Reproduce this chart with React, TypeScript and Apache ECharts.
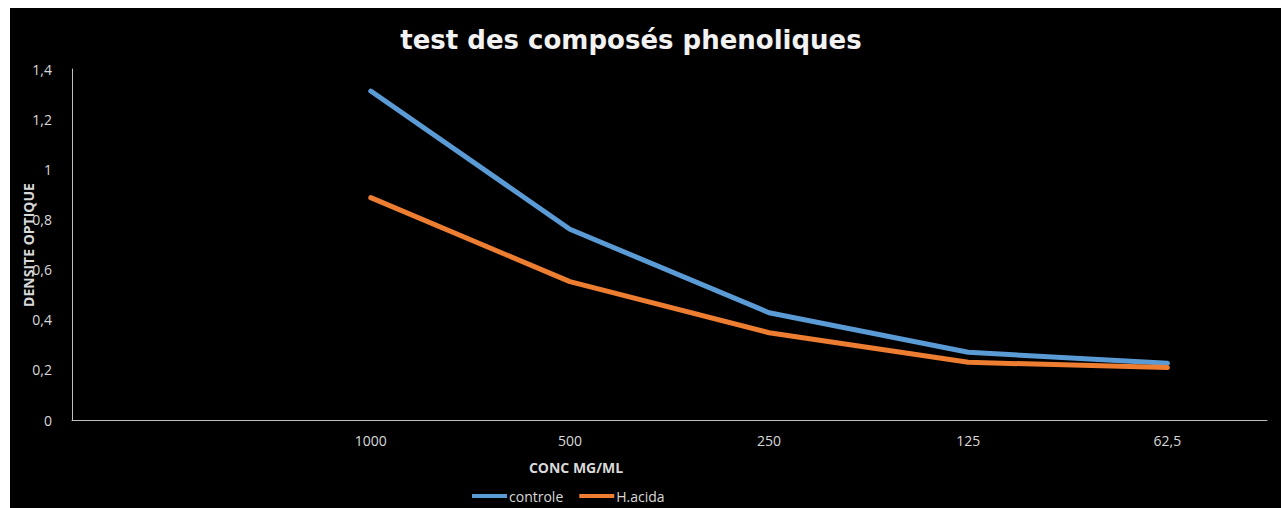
import React, { useEffect, useRef } from "react";
import * as echarts from "echarts";

const categories = ["", "1000", "500", "250", "125", "62,5"];
const controle = [null, 1.312, 0.761, 0.428, 0.27, 0.226];
const hAcida = [null, 0.887, 0.552, 0.348, 0.23, 0.209];
const yTicks = { min: 0, max: 1.4, interval: 0.2 };

const titleText = "test des composés phenoliques";
const xName = "CONC MG/ML";
const yName = "DENSITE OPTIQUE";

export default function App() {
  const ref = useRef<HTMLDivElement>(null);
  useEffect(() => {
    if (!ref.current) return;
    const chart = echarts.init(ref.current, null, { renderer: "svg" });
    chart.setOption({
      animation: false,
      backgroundColor: "#000000",
      grid: { left: 62, right: 14, top: 61, bottom: 88, containLabel: false },
      legend: {
        data: ["controle", "H.acida"],
        left: 457,
        top: 476,
        itemWidth: 35,
        itemHeight: 4,
        itemGap: 16,
        icon: "rect",
        textStyle: { color: "#d9d9d9", fontSize: 14, fontFamily: "Open Sans", padding: [0, 0, 0, -3] },
      },
      graphic: [
        {
          type: "text",
          x: 621,
          y: 32,
          style: {
            text: titleText,
            fill: "#f2f2f2",
            font: "bold 26px 'DejaVu Sans'",
            align: "center",
            verticalAlign: "middle",
          },
        },
        {
          type: "text",
          x: 566,
          y: 459,
          style: {
            text: xName,
            fill: "#d9d9d9",
            font: "bold 14px 'Open Sans'",
            align: "center",
            verticalAlign: "middle",
          },
        },
        {
          type: "text",
          x: 18,
          y: 237,
          rotation: Math.PI / 2,
          style: {
            text: yName,
            fill: "#d9d9d9",
            font: "bold 14px 'Open Sans'",
            align: "center",
            verticalAlign: "middle",
          },
        },
      ],
      xAxis: {
        type: "category",
        data: categories,
        boundaryGap: true,
        axisLine: { show: true, lineStyle: { color: "#bfbfbf", width: 1 } },
        axisTick: { show: false },
        axisLabel: { color: "#d9d9d9", fontSize: 14, fontFamily: "Open Sans", margin: 13 },
        splitLine: { show: false },
      },
      yAxis: {
        type: "value",
        min: yTicks.min,
        max: yTicks.max,
        interval: yTicks.interval,
        axisLine: { show: true, lineStyle: { color: "#bfbfbf", width: 1 } },
        axisTick: { show: false },
        splitLine: { show: false },
        axisLabel: {
          color: "#d9d9d9",
          fontSize: 14,
          fontFamily: "Open Sans",
          margin: 20,
          formatter: (v: number) => String(Math.round(v * 10) / 10).replace(".", ","),
        },
      },
      series: [
        {
          name: "controle",
          type: "line",
          data: controle,
          showSymbol: false,
          symbol: "none",
          lineStyle: { color: "#5b9bd5", width: 5, cap: "round", join: "round" },
          itemStyle: { color: "#5b9bd5" },
        },
        {
          name: "H.acida",
          type: "line",
          data: hAcida,
          showSymbol: false,
          symbol: "none",
          lineStyle: { color: "#ed7d31", width: 5, cap: "round", join: "round" },
          itemStyle: { color: "#ed7d31" },
        },
      ],
    });
    return () => chart.dispose();
  }, []);
  return (
    <div
      ref={ref}
      style={{ position: "absolute", left: 10, top: 8, width: 1271, height: 500 }}
    />
  );
}
